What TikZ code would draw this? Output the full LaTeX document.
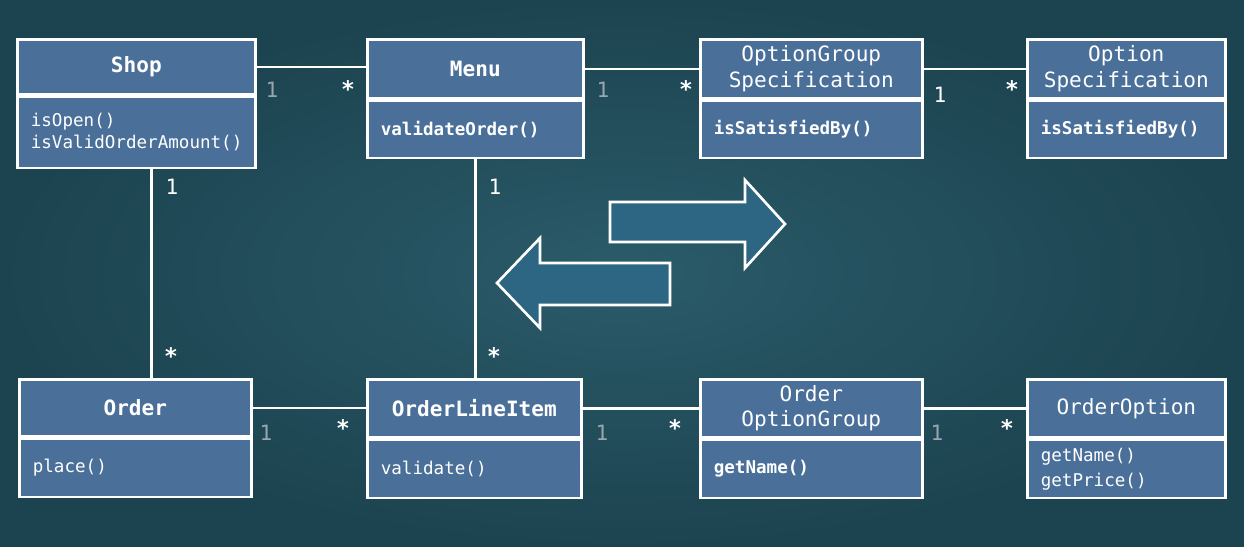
\documentclass[tikz,border=0pt]{standalone}
\usepackage{fontspec}
\setmonofont{DejaVu Sans Mono}
\usepackage{tikz}
\usepackage{xcolor}

\definecolor{boxblue}{HTML}{4A7099}
\definecolor{arrowblue}{HTML}{2C6683}
\definecolor{bgdark}{HTML}{1C4350}
\definecolor{bglight}{HTML}{2B5B69}
\definecolor{multgray}{HTML}{9AA6AE}

\tikzset{
	classhead/.style={draw=white, fill=boxblue, line width=1.5pt, inner sep=0pt, text=white,
		align=center, anchor=north west, font=\ttfamily\fontsize{12}{14.5}\selectfont},
	classbody/.style={draw=white, fill=boxblue, line width=1.5pt, inner xsep=0.27cm, inner ysep=0pt,
		text=white, align=left, anchor=north west, font=\ttfamily\fontsize{10}{12.5}\selectfont},
	assoc/.style={white, line width=1.5pt},
	multone/.style={text=multgray, font=\ttfamily\fontsize{12}{14}\selectfont},
	multwhite/.style={text=white, font=\ttfamily\fontsize{12}{14}\selectfont},
	multstar/.style={text=white, font=\ttfamily\bfseries\fontsize{13}{14}\selectfont},
	bigarrow/.style={draw=white, fill=arrowblue, line width=1.5pt, line join=miter}
}

\begin{document}
\begin{tikzpicture}
		% background
		\shade[inner color=bglight, outer color=bgdark] (0,0) rectangle (24.88,-10.94);
		\useasboundingbox (0,0) rectangle (24.88,-10.94);

		% top row
		\node[classhead, minimum width=4.76cm, minimum height=1.1cm] (shoph) at (0.32,-0.76) {\bfseries Shop};
		\node[classbody, text width=4.22cm, minimum height=1.42cm] (shopb) at (shoph.south west) {isOpen()\\isValidOrderAmount()};

		\node[classhead, minimum width=4.32cm, minimum height=1.18cm] (menuh) at (7.32,-0.76) {\bfseries Menu};
		\node[classbody, text width=3.78cm, minimum height=1.14cm] (menub) at (menuh.south west) {\bfseries validateOrder()};

		\node[classhead, minimum width=4.44cm, minimum height=1.18cm] (ogspech) at (13.98,-0.76) {OptionGroup\\Specification};
		\node[classbody, text width=3.9cm, minimum height=1.14cm] (ogspecb) at (ogspech.south west) {\bfseries isSatisfiedBy()};

		\node[classhead, minimum width=3.96cm, minimum height=1.18cm] (ospech) at (20.52,-0.76) {Option\\Specification};
		\node[classbody, text width=3.42cm, minimum height=1.14cm] (ospecb) at (ospech.south west) {\bfseries isSatisfiedBy()};

		% bottom row
		\node[classhead, minimum width=4.64cm, minimum height=1.14cm] (orderh) at (0.36,-7.56) {\bfseries Order};
		\node[classbody, text width=4.1cm, minimum height=1.16cm] (orderb) at (orderh.south west) {place()};

		\node[classhead, minimum width=4.28cm, minimum height=1.16cm] (olih) at (7.32,-7.56) {\bfseries OrderLineItem};
		\node[classbody, text width=3.74cm, minimum height=1.16cm] (olib) at (olih.south west) {validate()};

		\node[classhead, minimum width=4.44cm, minimum height=1.16cm] (oogh) at (13.98,-7.56) {Order\\OptionGroup};
		\node[classbody, text width=3.9cm, minimum height=1.16cm] (oogb) at (oogh.south west) {\bfseries getName()};

		\node[classhead, minimum width=3.96cm, minimum height=1.16cm] (oopth) at (20.52,-7.56) {OrderOption};
		\node[classbody, text width=3.42cm, minimum height=1.16cm] (ooptb) at (oopth.south west) {getName()\\[1.5pt]getPrice()};

		% associations
		\draw[assoc] (shoph.east) -- (shoph.east -| menuh.west);
		\draw[assoc] (menuh.east) -- (ogspech.west);
		\draw[assoc] (ogspech.east) -- (ospech.west);
		\draw[assoc] ([xshift=0.3cm]shopb.south) -- ([xshift=0.3cm]shopb.south |- orderh.north);
		\draw[assoc] (menub.south) -- (menub.south |- olih.north);
		\draw[assoc] (orderh.east) -- (orderh.east -| olih.west);
		\draw[assoc] (olih.east) -- (oogh.west);
		\draw[assoc] (oogh.east) -- (oopth.west);

		% multiplicities
		\node[multone] (m1) at (5.44,-1.80) {1};
		\node[multstar] (s1) at (6.96,-1.78) {*};
		\node[multone] (m2) at (12.06,-1.80) {1};
		\node[multstar] (s2) at (13.72,-1.78) {*};
		\node[multwhite] (m3) at (18.80,-1.90) {1};
		\node[multstar] (s3) at (20.24,-1.78) {*};
		\node[multwhite] (m4) at (3.44,-3.74) {1};
		\node[multstar] (s4) at (3.42,-7.12) {*};
		\node[multwhite] (m5) at (9.90,-3.74) {1};
		\node[multstar] (s5) at (9.88,-7.12) {*};
		\node[multone] (m6) at (5.32,-8.66) {1};
		\node[multstar] (s6) at (6.86,-8.56) {*};
		\node[multone] (m7) at (12.04,-8.66) {1};
		\node[multstar] (s7) at (13.50,-8.56) {*};
		\node[multone] (m8) at (18.74,-8.66) {1};
		\node[multstar] (s8) at (20.14,-8.56) {*};

		% the two big arrows
		\draw[bigarrow] (12.20,-4.04) -- (14.90,-4.04) -- (14.90,-3.60) -- (15.70,-4.48)
			-- (14.90,-5.36) -- (14.90,-4.84) -- (12.20,-4.84) -- cycle;
		\draw[bigarrow] (13.40,-5.26) -- (10.80,-5.26) -- (10.80,-4.76) -- (9.94,-5.66)
			-- (10.80,-6.56) -- (10.80,-6.10) -- (13.40,-6.10) -- cycle;

	\end{tikzpicture}
\end{document}
